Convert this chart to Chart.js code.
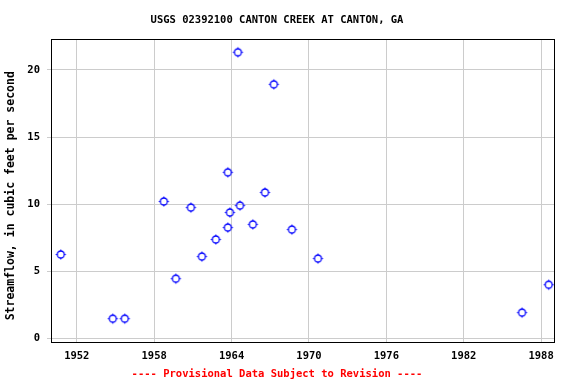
<!DOCTYPE html>
<html>
<head>
<meta charset="utf-8">
<script src="https://cdn.jsdelivr.net/npm/chart.js@4/dist/chart.umd.min.js"></script>
<style>
html,body{margin:0;padding:0;background:#fff;}
#wrap{width:576px;height:384px;}
</style>
</head>
<body>
<div id="wrap"><canvas id="c" width="576" height="384"></canvas></div>
<script>
// Data
const years = [1950.76, 1954.79, 1955.72, 1958.75, 1959.68, 1960.85, 1961.70, 1962.78, 1963.71, 1963.71,
               1963.87, 1964.49, 1964.65, 1965.65, 1966.59, 1967.28, 1968.68, 1970.70, 1986.52, 1988.59];
const flows = [6.25, 1.47, 1.47, 10.2, 4.45, 9.75, 6.1, 7.37, 12.37, 8.26,
               9.38, 21.32, 9.9, 8.49, 10.87, 18.93, 8.11, 5.95, 1.92, 4.0];
const xTicks = [1952, 1958, 1964, 1970, 1976, 1982, 1988];
const yTicks = [0, 5, 10, 15, 20];
const titleText = 'USGS 02392100 CANTON CREEK AT CANTON, GA';
const yTitle = 'Streamflow, in cubic feet per second';
const footText = '---- Provisional Data Subject to Revision ----';

const points = years.map((x, i) => ({x: x, y: flows[i]}));

// marker: circle with small stubs
const mk = document.createElement('canvas');
mk.width = 13; mk.height = 13;
(function(){
  const g = mk.getContext('2d');
  g.strokeStyle = '#0000ff';
  g.lineWidth = 1.3;
  g.beginPath(); g.arc(6.5, 6.5, 3.5, 0, Math.PI * 2); g.stroke();
  g.lineWidth = 1;
  g.beginPath();
  g.moveTo(6.5, 1.5); g.lineTo(6.5, 3);
  g.moveTo(6.5, 10); g.lineTo(6.5, 11.5);
  g.moveTo(1.5, 6.5); g.lineTo(3, 6.5);
  g.moveTo(10, 6.5); g.lineTo(11.5, 6.5);
  g.stroke();
})();

const mono = "'DejaVu Sans Mono', 'Liberation Mono', monospace";

const boxPlugin = {
  id: 'box',
  afterDatasetsDraw(chart) {
    const a = chart.chartArea, ctx = chart.ctx;
    ctx.save();
    ctx.strokeStyle = '#000';
    ctx.lineWidth = 1;
    ctx.strokeRect(Math.round(a.left) + 0.5, Math.round(a.top) + 0.5,
                   Math.round(a.right - a.left), Math.round(a.bottom - a.top));
    // y axis title
    ctx.translate(11, (a.top + a.bottom) / 2 + 5);
    ctx.rotate(-Math.PI / 2);
    ctx.fillStyle = '#000';
    ctx.font = "bold 11.5px " + mono;
    ctx.textAlign = 'center';
    ctx.textBaseline = 'middle';
    ctx.fillText(yTitle, 0, 0);
    ctx.restore();
  }
};

new Chart(document.getElementById('c'), {
  type: 'scatter',
  data: {
    datasets: [{
      data: points,
      pointStyle: mk,
      pointRadius: 5,
      pointHoverRadius: 5,
      showLine: false
    }]
  },
  plugins: [boxPlugin],
  options: {
    responsive: false,
    animation: false,
    devicePixelRatio: 1,
    layout: {padding: {left: 0, right: 22, top: 0, bottom: 0}},
    plugins: {
      legend: {display: false},
      tooltip: {enabled: false},
      title: {
        display: true,
        text: titleText,
        color: '#000',
        font: {family: mono, size: 10.5, weight: 'bold', lineHeight: 1.2},
        padding: {top: 14, bottom: 12.5}
      },
      subtitle: {
        display: true,
        position: 'bottom',
        text: footText,
        color: '#ff0000',
        font: {family: mono, size: 10.5, weight: 'bold', lineHeight: 1.2},
        padding: {top: 0, bottom: 3}
      }
    },
    scales: {
      x: {
        type: 'linear',
        min: 1950,
        max: 1989,
        afterBuildTicks: s => { s.ticks = xTicks.map(v => ({value: v})); },
        afterFit: s => { s.height = 26; },
        grid: {color: '#cccccc', lineWidth: 1, drawTicks: false},
        border: {display: false},
        ticks: {
          color: '#000',
          padding: 8,
          maxRotation: 0,
          autoSkip: false,
          font: {family: mono, size: 10.5, weight: 'bold'},
          callback: v => String(v)
        }
      },
      y: {
        type: 'linear',
        min: -0.3,
        max: 22.3,
        afterBuildTicks: s => { s.ticks = yTicks.map(v => ({value: v})); },
        afterFit: s => { s.width = 51; },
        grid: {color: '#cccccc', lineWidth: 1, drawTicks: true, tickLength: 4},
        border: {display: false},
        ticks: {
          color: '#000',
          padding: 7,
          autoSkip: false,
          font: {family: mono, size: 10.5, weight: 'bold'},
          callback: v => String(v)
        }
      }
    }
  }
});
</script>
</body>
</html>
